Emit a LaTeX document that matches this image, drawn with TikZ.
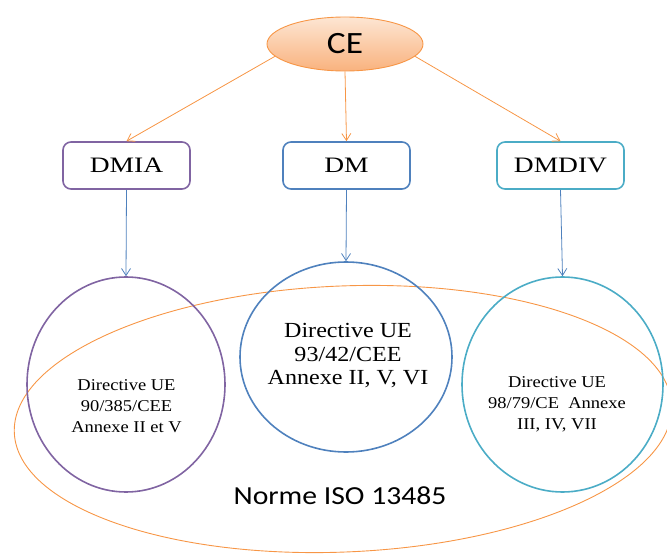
\documentclass[tikz,border=0pt]{standalone}
\usepackage{fontspec}
\setmainfont{Liberation Serif}
\newfontfamily\calib[FakeStretch=1.14]{Carlito}
\newfontfamily\boxserif[FakeStretch=1.25]{Liberation Serif}
\newfontfamily\circserif[FakeStretch=1.12]{Liberation Serif}
\usepackage{tikz}
\usetikzlibrary{positioning}
\usetikzlibrary{arrows.meta,shapes.geometric}
\definecolor{ceorange}{HTML}{F79646}
\definecolor{cetop}{HTML}{FDE6D3}
\definecolor{cebot}{HTML}{F9B27E}
\definecolor{dmiapurple}{HTML}{8064A2}
\definecolor{dmblue}{HTML}{4F81BD}
\definecolor{divteal}{HTML}{4BACC6}
\tikzstyle{rootvertex}=[ellipse,draw=ceorange,line width=0.9pt,top color=cetop,bottom color=cebot,minimum width=156pt,minimum height=54pt,inner sep=0pt,font=\calib\fontsize{31}{33}\selectfont]
\tikzstyle{classbox}=[rectangle,rounded corners=8pt,draw,line width=1.6pt,minimum width=127pt,minimum height=47pt,inner sep=0pt,font=\boxserif\fontsize{22}{24}\selectfont]
\tikzstyle{dirvertex}=[ellipse,draw,line width=1.6pt,inner sep=0pt]
\tikzstyle{dirtext}=[align=center,inner sep=0pt,font=\circserif\fontsize{16.5}{21}\selectfont]
\tikzstyle{topedge} = [draw,ceorange,line width=0.8pt,->]
\tikzstyle{downedge} = [draw,dmblue,line width=0.8pt,->]

\begin{document}
\begin{tikzpicture}[x=1pt,y=1pt,>={Straight Barb[length=7pt,width=9pt]}]

   \clip (0,0) rectangle (667,558);

   \def\h{392.5};
   \def\r{173.5};

% Norme ISO
   \node[ellipse,draw=ceorange,line width=0.9pt,minimum width=658pt,minimum height=266pt,rotate=2.4] (iso) at (343,139) {};
   \node[font=\calib\fontsize{26}{28}\selectfont] (isolabel) at (340,62) {Norme ISO 13485};

%layer 1
   \node[rootvertex] (ce) at (345,514) {CE};

%layer 2
   \foreach \pos/\name/\col/\label in {{(126.5,\h)/dmia/dmiapurple/DMIA}, {(346.5,\h)/dm/dmblue/DM}, {(560.5,\h)/dmdiv/divteal/DMDIV}}
       \node[classbox,draw=\col] (\name) at \pos {\label};

%layer 3
   \node[dirvertex,draw=dmiapurple,minimum width=198pt,minimum height=215pt] (c1) at (126,\r) {};
   \node[dirvertex,draw=dmblue,minimum width=212pt,minimum height=190pt] (c2) at (346,201) {};
   \node[dirvertex,draw=divteal,minimum width=201pt,minimum height=215pt] (c3) at (562.5,\r) {};

   %Label
   \node[dirtext] (t1) at (126.5,152) {Directive UE\\90/385/CEE\\Annexe II et V};
   \node[dirtext,font=\circserif\fontsize{21.5}{23.5}\selectfont] (t2) at (348,202) {Directive UE\\93/42/CEE\\Annexe II, V, VI};
   \node[dirtext] (t3) at (557,154) {Directive UE\\98/79/CE\ \ Annexe\\III, IV, VII};

% Edges
   %layer 1
   \path[topedge] (ce.190) -- (dmia.north);
   \path[topedge] (ce.south) -- (dm.north);
   \path[topedge] (ce.350) -- (dmdiv.north);
   %layer 2
   \foreach \source/ \dest in {dmia/c1, dm/c2, dmdiv/c3}
       \path[downedge] (\source.south) -- (\dest.north);

\end{tikzpicture}
\end{document}
